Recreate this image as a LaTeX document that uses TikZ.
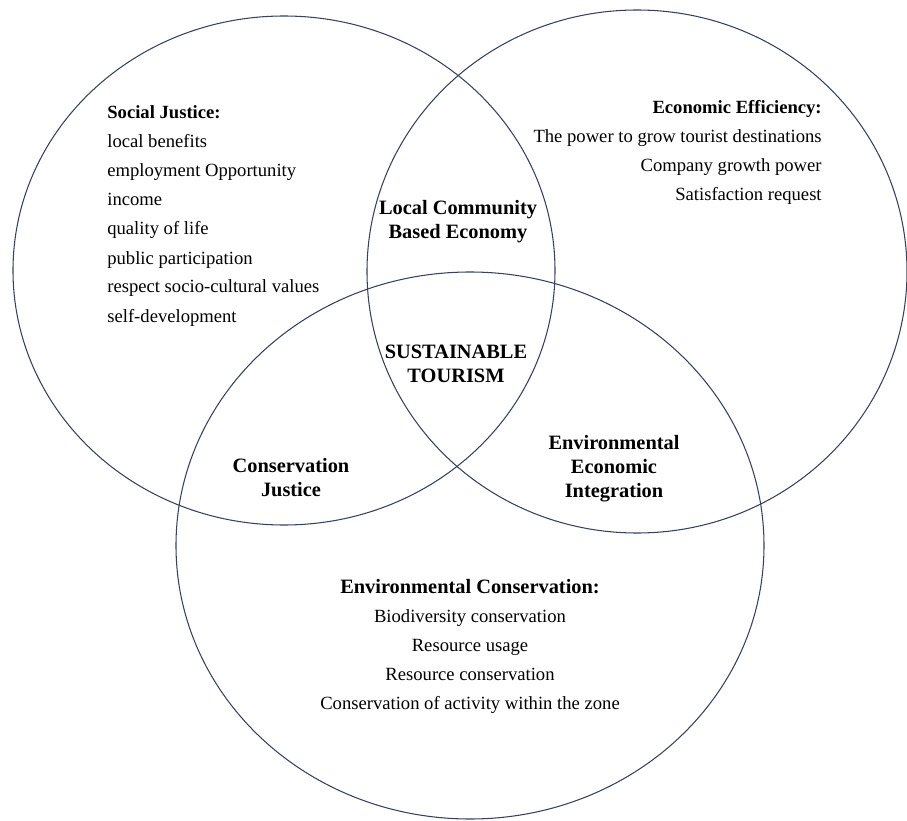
\documentclass[tikz,border=0pt]{standalone}
\usepackage{fontspec}
\setmainfont{Liberation Serif}
\definecolor{ringcol}{RGB}{55,65,95}
\tikzset{
  ring/.style={draw=ringcol, line width=0.6pt},
  item/.style={inner sep=0pt, font=\fontsize{10.6}{12}\selectfont},
  head/.style={item, font=\bfseries\fontsize{10.6}{12}\selectfont},
  bighead/.style={item, font=\bfseries\fontsize{11.6}{13}\selectfont},
  zone/.style={inner sep=0pt, align=center, font=\bfseries\fontsize{11.6}{13.7}\selectfont}
}
\begin{document}
\begin{tikzpicture}[x=0.02cm, y=-0.02cm]
\useasboundingbox (0,0) rectangle (907,821);
% the three fields
\draw[ring] (284,270.5) ellipse [x radius=271, y radius=254.5];
\draw[ring] (637,271.5) ellipse [x radius=270, y radius=261.5];
\draw[ring] (470,545.5) ellipse [x radius=294, y radius=273.5];
% social justice
\node[head, anchor=base west] (sj) at (107,119) {Social Justice:};
\foreach \txt [count=\i] in {local benefits, employment Opportunity, income, quality of life, public participation, respect socio-cultural values, self-development}
  \node[item, anchor=base west] (sj\i) at (107,119+29*\i) {\txt};
% economic efficiency
\node[head, anchor=base east] (ee) at (822,114) {Economic Efficiency:};
\foreach \txt [count=\i] in {The power to grow tourist destinations, Company growth power, Satisfaction request}
  \node[item, anchor=base east] (ee\i) at (822,114+29*\i) {\txt};
% environmental conservation
\node[bighead, anchor=base] (ec) at (470,593) {Environmental Conservation:};
\foreach \txt [count=\i] in {Biodiversity conservation, Resource usage, Resource conservation, Conservation of activity within the zone}
  \node[item, anchor=base] (ec\i) at (470,593+29*\i) {\txt};
% overlaps
\node[zone] (lcbe) at (458,222) {Local Community\\Based Economy};
\node[zone] (st) at (456,364) {SUSTAINABLE\\TOURISM};
\node[zone] (cj) at (291,478) {Conservation\\Justice};
\node[zone] (eei) at (614,469) {Environmental\\Economic\\Integration};
\end{tikzpicture}
\end{document}
